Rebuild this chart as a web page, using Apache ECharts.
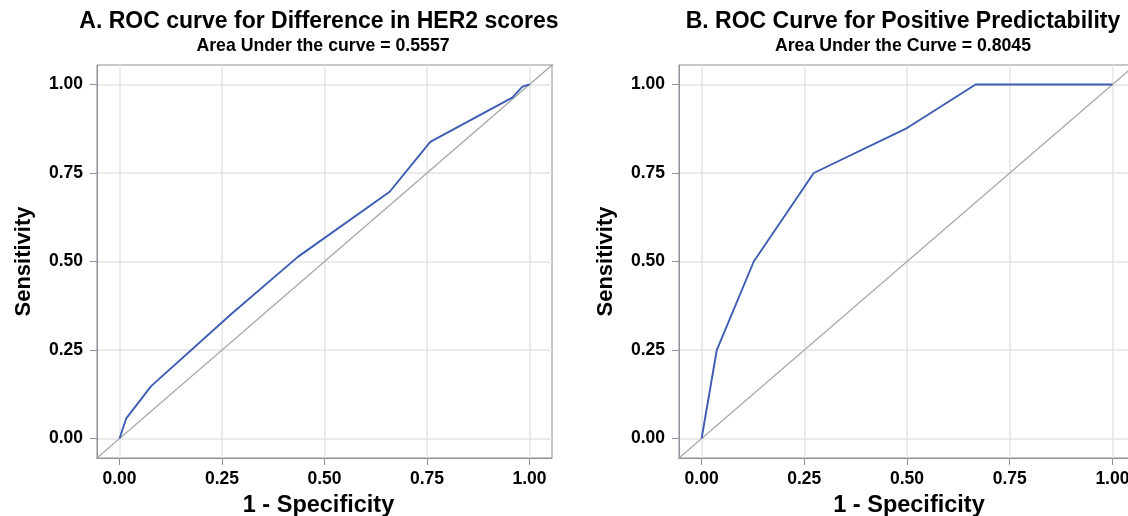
<!DOCTYPE html>
<html>
<head>
<meta charset="utf-8">
<title>ROC curves</title>
<script src="https://cdn.jsdelivr.net/npm/echarts@6/dist/echarts.min.js"></script>
<style>
    html, body { margin: 0; padding: 0; background: #fff; }
    #chart { width: 1128px; height: 516px; }
</style>
</head>
<body>
<div id="chart"></div>
<script>
// chart values
var ticks = [0, 0.25, 0.5, 0.75, 1];
var diagonal = [[-0.1, -0.1], [1.1, 1.1]];

// A. difference in HER2 scores  (x = 1 - specificity, y = sensitivity)
var rocA = [
    [0, 0], [0.016, 0.056], [0.077, 0.148], [0.272, 0.351], [0.435, 0.513],
    [0.659, 0.697], [0.758, 0.838], [0.958, 0.963], [0.983, 0.994], [1, 1]
];
var aucA = 0.5557;

// B. positive predictability
var rocB = [
    [0, 0], [0.037, 0.25], [0.127, 0.5], [0.273, 0.75], [0.5, 0.877],
    [0.667, 1], [1, 1]
];
var aucB = 0.8045;

var FONT = '"Liberation Sans", Arial, sans-serif';
var frameColor = '#8d9199';

function makeAxis(gridIndex, name, isY, namePad) {
    return {
        type: 'value',
        gridIndex: gridIndex,
        min: -0.055,
        max: 1.055,
        name: name,
        nameLocation: 'middle',
        nameGap: isY ? 62 : 36,
        nameTextStyle: {
            fontFamily: FONT, fontWeight: 'bold', fontSize: isY ? 22 : 23.5, color: '#000',
            padding: namePad || 0
        },
        axisLine: { show: true, onZero: false, lineStyle: { color: frameColor, width: 1 } },
        axisTick: { show: true, length: 7, customValues: ticks, lineStyle: { color: frameColor } },
        axisLabel: {
            customValues: ticks,
            margin: isY ? 14 : 12,
            fontFamily: FONT, fontWeight: 'bold', fontSize: 17.5, color: '#000',
            formatter: function (v) { return v.toFixed(2); }
        },
        splitLine: { show: true, lineStyle: { color: '#e4e4e4', width: 1.5 } }
    };
}

var titleStyle = { fontFamily: FONT, fontWeight: 'bold', fontSize: 23, color: '#000' };
var subStyle = { fontFamily: FONT, fontWeight: 'bold', fontSize: 17.7, color: '#000' };

var myChart = echarts.init(document.getElementById('chart'));
var option = {
    backgroundColor: '#fff',
    animation: false,
    title: [
        { text: 'A. ROC curve for Difference in HER2 scores', left: 314, top: 5, textAlign: 'center', textStyle: titleStyle },
        { text: 'Area Under the curve = ' + aucA.toFixed(4), left: 318, top: 32, textAlign: 'center', textStyle: subStyle },
        { text: 'B. ROC Curve for Positive Predictability', left: 898, top: 5, textAlign: 'center', textStyle: titleStyle },
        { text: 'Area Under the Curve = ' + aucB.toFixed(4), left: 898, top: 32, textAlign: 'center', textStyle: subStyle }
    ],
    // the right panel runs off the picture, as in the original
    grid: [
        { left: 97, top: 65, width: 455, height: 393, outerBoundsMode: 'none', show: true, borderColor: frameColor, borderWidth: 1 },
        { left: 679, top: 65, width: 456, height: 393, outerBoundsMode: 'none', show: true, borderColor: frameColor, borderWidth: 1 }
    ],
    xAxis: [
        makeAxis(0, '1 - Specificity', false, [0, 12, 0, 0]),
        makeAxis(1, '1 - Specificity', false, [0, 0, 0, 4])
    ],
    yAxis: [makeAxis(0, 'Sensitivity', true), makeAxis(1, 'Sensitivity', true)],
    series: [
        {
            type: 'line', xAxisIndex: 0, yAxisIndex: 0, data: diagonal, clip: true,
            symbol: 'none', lineStyle: { color: '#a9a9a9', width: 1.3 }, z: 2
        },
        {
            type: 'line', xAxisIndex: 0, yAxisIndex: 0, data: rocA,
            symbol: 'none', lineStyle: { color: '#3d5cb3', width: 1.9 }, z: 3
        },
        {
            type: 'line', xAxisIndex: 1, yAxisIndex: 1, data: diagonal, clip: true,
            symbol: 'none', lineStyle: { color: '#a9a9a9', width: 1.3 }, z: 2
        },
        {
            type: 'line', xAxisIndex: 1, yAxisIndex: 1, data: rocB,
            symbol: 'none', lineStyle: { color: '#3d5cb3', width: 1.9 }, z: 3
        }
    ]
};
myChart.setOption(option);
</script>
</body>
</html>
